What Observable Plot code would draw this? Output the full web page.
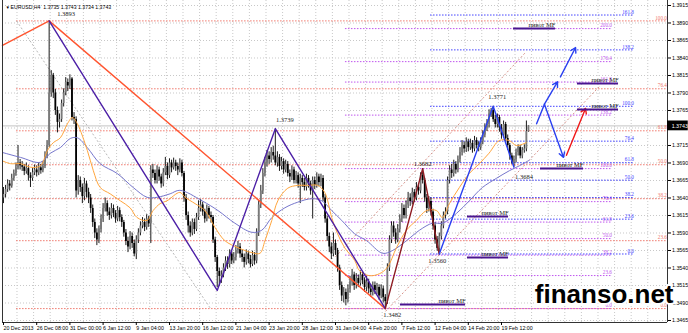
<!DOCTYPE html>
<html><head><meta charset="utf-8">
<script src="https://cdn.jsdelivr.net/npm/d3@7"></script>
<script src="https://cdn.jsdelivr.net/npm/@observablehq/plot@0.6"></script>
<style>
body{margin:0;background:#fff}
#chart svg{display:block}
</style></head><body><div id="chart"></div>
<script>
// prices stored as pips above 1.3000
const BASE = 1.3;
const firstOpen = 640;
const closes = [
645,652,660,657,668,675,683,690,686,684,
678,682,672,668,676,680,676,683,679,685,
700,715,790,815,790,765,748,752,775,790,
805,800,810,755,752,650,665,655,642,660,
648,640,625,605,590,580,595,610,625,632,
620,615,625,618,610,622,612,605,590,578,
570,585,575,560,580,590,600,605,598,610,
603,680,675,665,680,670,660,676,685,672,
690,683,690,685,680,690,675,640,615,600,
590,605,595,612,625,630,620,610,625,615,
612,580,555,535,528,530,540,550,545,560,
550,555,565,570,560,555,548,560,552,545,
558,550,590,630,650,675,690,700,695,705,
700,690,698,685,692,680,688,675,670,680,
665,672,660,668,662,655,668,660,650,665,
658,670,662,668,640,610,585,570,560,575,
565,540,515,500,505,495,510,520,530,515,
525,518,530,522,512,520,510,505,515,508,
512,500,510,498,492,540,580,600,590,580,
595,610,625,615,630,640,635,648,640,655,
650,672,665,640,625,635,620,600,580,568,
585,600,615,620,665,680,675,688,680,695,
705,715,710,720,712,718,710,722,715,712,
720,730,740,745,760,765,752,745,755,740,
730,745,725,715,700,690,695,705,712,700,
708,710,735,743];
const highs = [
655,658,666,665,674,680,690,715,695,692,
688,690,686,676,682,687,686,690,688,692,
706,722,893,822,818,795,770,760,780,796,
812,810,816,812,762,756,672,670,660,668,
664,654,645,630,610,596,600,616,632,640,
636,626,632,630,622,628,626,616,608,595,
584,592,590,580,586,596,606,612,610,616,
614,686,688,680,686,684,674,682,698,690,
696,694,697,694,690,696,694,678,645,620,
606,610,610,618,636,638,634,624,630,628,
620,615,584,558,540,536,546,556,556,566,
564,562,572,578,575,566,560,566,564,558,
564,562,596,636,658,682,698,708,706,712,
714,739,706,702,698,696,694,692,680,686,
684,678,676,674,672,668,674,672,664,670,
670,676,674,674,672,645,614,590,576,590,
580,568,544,520,512,510,516,528,538,534,
532,530,536,534,526,528,524,516,520,520,
518,516,516,514,502,546,586,606,606,596,
602,616,632,630,636,648,646,654,652,662,
660,676,682,668,645,642,640,624,605,585,
590,606,620,626,670,686,688,694,692,700,
712,722,720,726,724,724,722,728,726,720,
726,736,746,752,766,768,771,758,760,758,
745,750,748,730,718,704,700,710,716,715,
712,716,750,743];
const lows = [
632,640,648,650,654,664,671,680,680,678,
672,674,664,655,664,672,670,672,674,676,
682,696,712,784,782,758,733,740,748,770,
786,792,795,750,745,640,644,648,632,636,
640,632,618,598,582,572,575,590,605,620,
614,608,610,612,604,606,606,598,584,572,
562,566,568,556,552,575,586,596,592,594,
598,575,668,660,660,664,654,656,672,666,
668,676,680,678,672,676,670,634,608,590,
584,586,588,592,608,620,614,604,606,610,
604,575,548,512,514,518,526,535,538,540,
545,546,550,560,554,548,540,544,546,540,
542,544,546,585,625,645,670,684,688,690,
694,686,684,678,680,674,676,670,662,665,
660,660,654,632,655,650,650,654,644,610,
652,654,656,656,635,604,578,562,552,556,
558,534,508,492,490,486,490,504,514,508,
510,512,514,516,505,506,503,498,500,502,
502,494,496,490,482,488,535,575,584,574,
576,590,605,610,610,625,628,630,634,636,
644,646,660,634,618,620,614,594,574,564,
560,580,596,610,616,660,668,670,674,676,
690,700,704,705,706,708,704,706,710,706,
708,716,726,735,740,755,748,740,740,734,
724,726,720,708,694,688,684,690,700,696,
696,704,706,734];

const dateLabels = ["20 Dec 2013","26 Dec 08:00","31 Dec 00:00","6 Jan 12:00","9 Jan 04:00","13 Jan 20:00","16 Jan 12:00","21 Jan 04:00","23 Jan 20:00","28 Jan 12:00","31 Jan 04:00","4 Feb 20:00","7 Feb 12:00","12 Feb 04:00","14 Feb 20:00","19 Feb 12:00"];
const dateLabelBars = [0,16,32,48,64,80,96,112,128,144,160,176,192,208,224,240];
const priceTickLabels = [1.3915,1.3890,1.3865,1.3840,1.3815,1.3790,1.3765,1.3715,1.3690,1.3665,1.3640,1.3615,1.3590,1.3565,1.3540,1.3515,1.3490,1.3465];
const gridLevels = [1.3915,1.3890,1.3865,1.3840,1.3815,1.3790,1.3765,1.3740,1.3715,1.3690,1.3665,1.3640,1.3615,1.3590,1.3565,1.3540,1.3515,1.3490,1.3465];
const lastPrice = 1.3743;
const header = "EURUSD,H4  1.3735 1.3743 1.3734 1.3743";

// moving averages read at sample bars: [bar, pips]
const maOrange = [[-0.5,693],[3.4,689],[8.2,689],[13,684],[17.8,686],[21.2,708],[24,719],[27.4,726],[30.8,746],[33.2,755],[35.6,746],[40.4,708],[43.3,679],[46.6,655],[51.4,646],[56.3,636],[61,626],[64.4,612],[69.2,608],[72.1,622],[75.5,632],[78.8,636],[85,648],[87.5,641],[92.3,632],[97.1,622],[101.9,598],[106.7,579],[113,569],[119.7,562],[123.6,561],[126,579],[129.3,608],[132.2,636],[137,654],[141.8,658],[146.6,658],[151.4,658],[154.8,648],[158.2,612],[161,589],[164.4,569],[169.2,551],[171.6,536],[176.4,529],[181.3,532],[185,541],[189.4,569],[194.2,594],[199,608],[203.8,622],[208.7,622],[211.5,612],[214.9,632],[219.7,655],[224.5,675],[229.3,689],[234,704],[238.9,722],[243.8,722],[247.1,715],[251.9,719]];
const maBlue = [[-0.5,705],[8.2,698],[17.8,691],[22.6,704],[27.4,712],[32.2,725],[35.6,726],[40.4,712],[46.6,689],[54.8,675],[62.5,655],[69.2,641],[74,641],[80.3,646],[85,651],[95.7,636],[103.4,622],[111.5,604],[119.7,591],[124.5,594],[129.3,612],[135.6,626],[141.8,634],[148.6,639],[153.4,636],[158.2,622],[163,608],[169.2,589],[175,579],[182.7,561],[187.5,565],[194.2,579],[200.5,594],[206.7,604],[211.5,604],[218.3,618],[224.5,636],[230.8,655],[237.5,668],[243.8,679],[248.6,686],[253.4,694]];

// zigzags [bar, pips]
const zigOrange = [[-0.5,858],[22,893],[184,482]];
const zigPurple = [[22,893],[103,508],[131,739],[184,482]];
const zigMaroon = [[184,482],[202,682],[210,560]];
const zigBlue = [[210,560],[236,771],[246,684]];
const forecastBlue = [[256.9,746],[260.7,774]];
const forecastArrows = [[260.7,774,269.9,698],[260.7,774,267,806],[268.4,813,275.7,855]];
const forecastRed = [[271.3,701,280.5,768]];
const channelLines = [[160,556,251.6,848],[184.1,478,287.7,801]];
const fibDiagonal = [[6.3,893,99.8,482]];

// fibonacci sets
const fibRatios = [0,23.6,38.2,50,61.8,76.4,100];
const fibBlueRatios = [0,23.6,38.2,50,61.8,76.4,100,138.2,161.8];
const fibPurpleRatios = [0,23.6,38.2,50,61.8,76.4,100,138.2,161.8,176.4,200];
const fibRed = {low:482, high:893, start:6.3, end:320};
const fibBlue = {low:560, high:771, start:205.8, end:304.1};
const fibPurple = {low:482, high:682, start:164.8, end:293.5};

// "пивот MF" pivots
const pivotStart = [245.8,276.6,276.6,258.8,223.6,223.6,191.3];
const pivotEnd = [266,296.4,296.4,279.5,243.4,243.4,222.7];
const pivotLevel = [882,803.5,766.4,682,613.5,555,487.8];

// swing labels
const swingText = ["1.3893","1.3739","1.3771","1.3682","1.3560","1.3684","1.3482"];
const swingBar = [22,131,236,202,210,246,184];
const swingPips = [893,739,771,682,560,684,482];
const swingOffset = [[17,-6.5],[9.5,-9],[4,-9],[0,-5],[-2,6.5],[10,10],[7,6]];

const P = p => BASE + p / 10000;
const candles = closes.map((c, i) => {
  const o = i === 0 ? firstOpen : closes[i - 1];
  return {i, open: P(o), close: P(c), high: P(highs[i]), low: P(lows[i]), up: c >= o};
});
const pts = arr => arr.map(d => ({x: d[0], y: P(d[1])}));
const segs = arr => arr.map(d => ({x1: d[0], y1: P(d[1]), x2: d[2], y2: P(d[3])}));
const fibData = (f, ratios) => ratios.map(r => ({r, y: P(f.low + r / 100 * (f.high - f.low))}));
const fmt1 = d3.format(".1f");
const pivots = pivotLevel.map((v, k) => ({x1: pivotStart[k], x2: pivotEnd[k], y: P(v)}));

const xDomain = [-0.48, 320];
const yDomain = [1.346214, 1.392214];
const serif = "Liberation Serif, Times New Roman, serif";
const sans = "Liberation Sans, Arial, sans-serif";
const dotted = "1.5,1.5";

const fibMarks = (f, ratios, color) => [
  Plot.ruleY(fibData(f, ratios), {y: "y", x1: f.start, x2: f.end, stroke: color, strokeWidth: 1, strokeDasharray: dotted}),
  Plot.text(fibData(f, ratios), {x: f.end - 0.3, y: "y", text: d => fmt1(d.r), textAnchor: "end", dy: -3, fontSize: 5.2, fontFamily: serif, fill: color})
];

const gridBars = d3.range(1, 40).map(k => 8 * k - 1.5);

const marks = [
  Plot.ruleY(gridLevels, {x1: xDomain[0], x2: xDomain[1], stroke: "#c8c8c8", strokeDasharray: "1,2"}),
  Plot.ruleX(gridBars, {y1: yDomain[0], y2: yDomain[1], stroke: "#c8c8c8", strokeDasharray: "1,2"}),
  Plot.ruleY([lastPrice], {x1: xDomain[0], x2: xDomain[1], stroke: "#c4c4c4", strokeWidth: 1}),
  ...fibMarks(fibRed, fibRatios, "#f0786c"),
  ...fibMarks(fibPurple, fibPurpleRatios, "#bf55ee"),
  ...fibMarks(fibBlue, fibBlueRatios, "#4040ff"),
  Plot.link(segs(fibDiagonal), {x1: "x1", y1: "y1", x2: "x2", y2: "y2", stroke: "#b8b8b8", strokeDasharray: "2,2"}),
  Plot.link(segs(channelLines), {x1: "x1", y1: "y1", x2: "x2", y2: "y2", stroke: "#d8948c", strokeDasharray: "2,2"}),
  // candles
  Plot.ruleX(candles, {x: "i", y1: "low", y2: "high", stroke: "#000", strokeWidth: 0.9}),
  Plot.ruleX(candles, {x: "i", y1: "open", y2: "close", stroke: d => d.up ? "#7a7a7a" : "#000", strokeWidth: 1.8}),
  // moving averages
  Plot.line(pts(maBlue), {x: "x", y: "y", stroke: "#7676cc", strokeWidth: 1, curve: "catmull-rom"}),
  Plot.line(pts(maOrange), {x: "x", y: "y", stroke: "#ffa53c", strokeWidth: 1, curve: "catmull-rom"}),
  // zigzags
  Plot.line(pts(zigOrange), {x: "x", y: "y", stroke: "#ff5530", strokeWidth: 1.4}),
  Plot.line(pts(zigPurple), {x: "x", y: "y", stroke: "#4c1fa6", strokeWidth: 1.4}),
  Plot.line(pts(zigMaroon), {x: "x", y: "y", stroke: "#8e1c22", strokeWidth: 1.4}),
  Plot.line(pts(zigBlue), {x: "x", y: "y", stroke: "#2a40f0", strokeWidth: 1.4}),
  Plot.line(pts(forecastBlue), {x: "x", y: "y", stroke: "#2a40f0", strokeWidth: 1.4}),
  Plot.arrow(segs(forecastArrows), {x1: "x1", y1: "y1", x2: "x2", y2: "y2", stroke: "#2a40f0", strokeWidth: 1.4, headLength: 6}),
  Plot.arrow(segs(forecastRed), {x1: "x1", y1: "y1", x2: "x2", y2: "y2", stroke: "#f01818", strokeWidth: 1.4, headLength: 6}),
  // pivots
  Plot.ruleY(pivots, {y: "y", x1: "x1", x2: "x2", stroke: "#4a1490", strokeWidth: 2}),
  Plot.text(pivots, {x: "x2", y: "y", text: () => "пивот MF", textAnchor: "end", lineAnchor: "bottom", dy: -1.5, fontSize: 6.5, fontFamily: serif, fill: "#1a1a1a"}),
  // swing labels
  ...swingText.map((t, k) => Plot.text([t], {x: swingBar[k], y: P(swingPips[k]), text: d => d, dx: swingOffset[k][0], dy: swingOffset[k][1], fontSize: 6.5, fontFamily: serif, fill: "#222"})),
  // frame
  Plot.ruleX([xDomain[0]], {stroke: "#333"}),
  Plot.ruleX([xDomain[1]], {stroke: "#333"}),
  Plot.ruleY([yDomain[0]], {stroke: "#333"}),
  // axes
  Plot.axisY(priceTickLabels, {anchor: "right", tickSize: 3, tickPadding: 1.5, tickFormat: d3.format(".4f"), label: null, fontSize: 5.3, fontFamily: sans}),
  Plot.axisX(dateLabelBars, {anchor: "bottom", tickSize: 3, tickPadding: 1, tickFormat: d => dateLabels[dateLabelBars.indexOf(d)], textAnchor: "start", dx: 0, label: null, fontSize: 5.3, fontFamily: sans}),
  // last price box
  Plot.rect([lastPrice], {x1: xDomain[1], x2: 330, y1: d => d - 0.0007, y2: d => d + 0.0007, fill: "#000"}),
  Plot.text([lastPrice], {x: xDomain[1] + 2, y: d => d, text: d => d3.format(".4f")(d), textAnchor: "start", fill: "#fff", fontSize: 5.3, fontFamily: sans}),
  // header
  Plot.text(["▼"], {frameAnchor: "top-left", text: d => d, dx: 3, dy: 5, fontSize: 4.5, fill: "#000"}),
  Plot.text([header], {frameAnchor: "top-left", text: d => d, textAnchor: "start", dx: 8, dy: 5, fontSize: 5.2, fontFamily: sans, fill: "#000"}),
  // watermark
  Plot.text(["finanso.net"], {frameAnchor: "bottom-right", text: d => d, textAnchor: "end", dx: 6, dy: -20, fontSize: 26, fontWeight: "bold", fontFamily: sans, fill: "#000", stroke: "#fff", strokeWidth: 4})
];

const chart = Plot.plot({
  width: 688, height: 333,
  marginLeft: 2, marginRight: 21, marginTop: 0, marginBottom: 11,
  x: {domain: xDomain},
  y: {domain: yDomain},
  style: {background: "#fff", fontFamily: sans, fontSize: "5.3px", overflow: "visible"},
  marks
});
document.getElementById("chart").append(chart);
</script></body></html>
